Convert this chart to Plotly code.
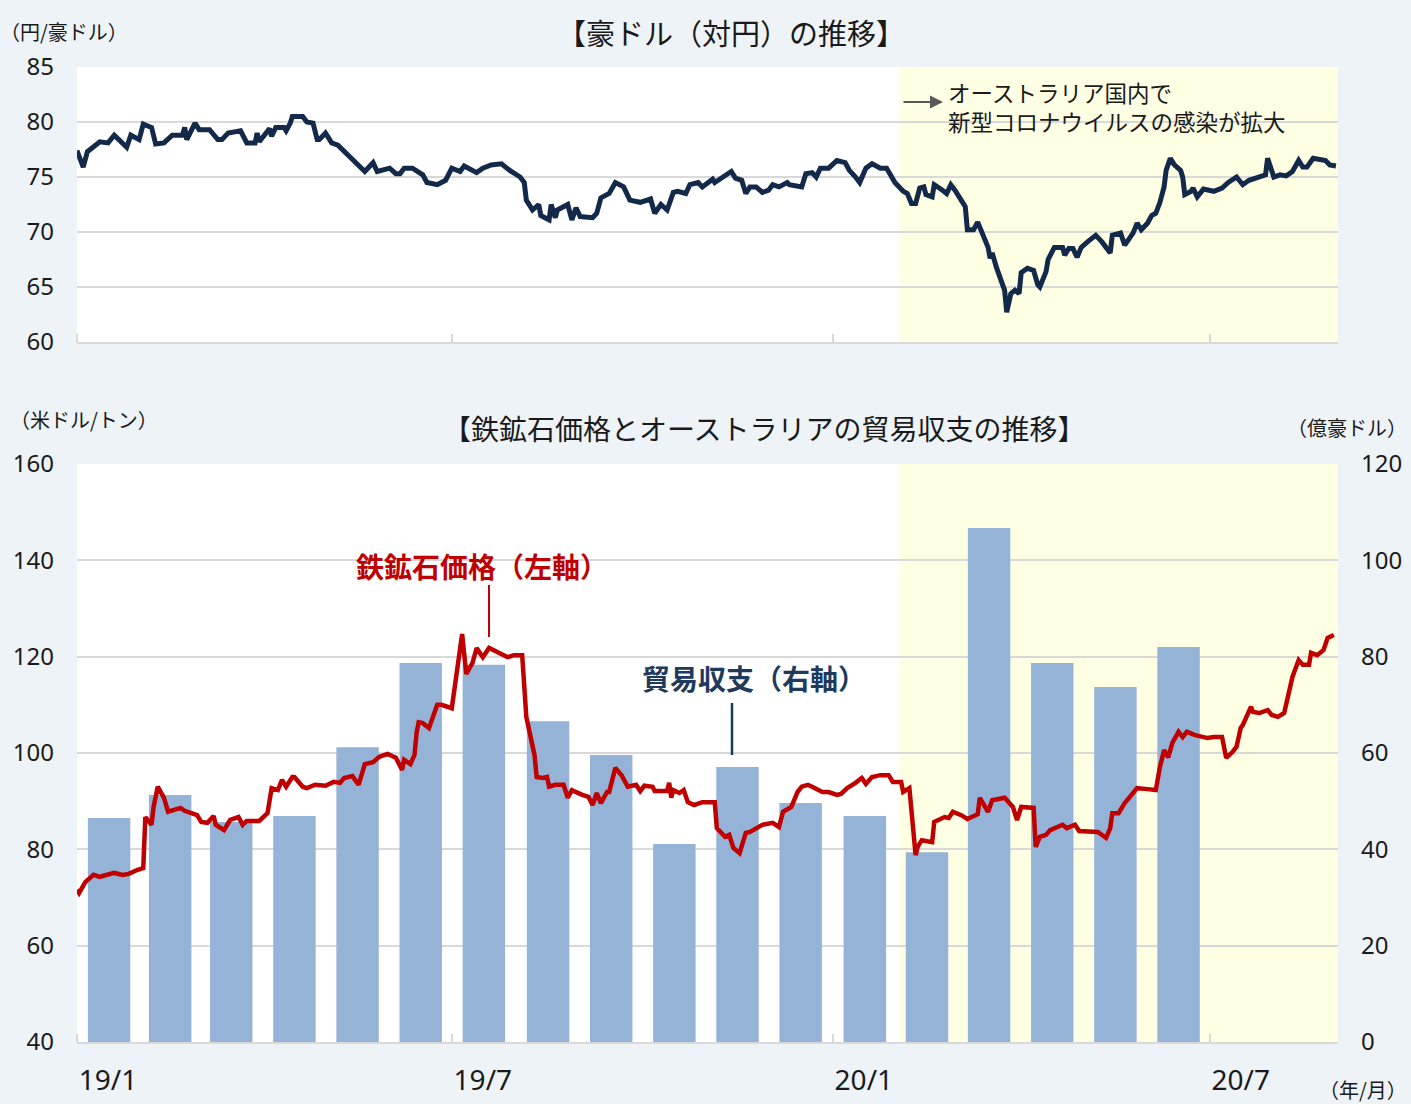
import pandas as pd
import plotly.graph_objects as go

BASE_DATE = "2019-01-01"

# ---- AUD/JPY (days since 2019-01-01, value in JPY per AUD) ----
audjpy_day = [0, 3, 5, 11, 15, 18, 24, 26, 30, 32, 36, 38, 42, 46, 51, 52, 53, 57, 59, 64,
              68, 70, 73, 79, 82, 86, 87, 88, 93, 94, 96, 100, 101, 103, 104, 109, 111, 114, 116, 117,
              120, 123, 126, 131, 135, 137, 139, 143, 145, 151, 154, 156, 158, 162, 167, 169, 174, 178, 181, 185,
              187, 193, 196, 200, 205, 209, 214, 216, 217, 220, 223, 224, 228, 229, 231, 232, 237, 239, 241, 243,
              249, 251, 253, 257, 260, 264, 267, 272, 277, 279, 282, 285, 288, 290, 294, 296, 300, 302, 307, 308,
              314, 316, 318, 321, 323, 325, 328, 331, 334, 336, 339, 343, 344, 350, 352, 355, 357, 359, 363, 367,
              371, 373, 376, 378, 381, 384, 388, 391, 395, 399, 401, 403, 405, 407, 409, 410, 413, 414, 418, 420,
              422, 424, 428, 429, 430, 433, 435, 437, 440, 441, 442, 444, 447, 448, 449, 451, 453, 455, 456, 459,
              462, 464, 465, 468, 469, 472, 476, 477, 479, 481, 483, 485, 488, 492, 495, 498, 499, 500, 504, 506,
              510, 512, 514, 517, 519, 521, 523, 525, 526, 528, 530, 533, 534, 535, 538, 539, 541, 544, 549, 553,
              556, 560, 563, 566, 569, 574, 575, 578, 581, 584, 587, 590, 592, 594, 597, 600, 603, 605, 608]
audjpy_val = [77.4, 75.9, 77.3, 78.2, 78.1, 78.8, 77.7, 78.8, 78.4, 79.8, 79.5, 78.0, 78.1, 78.8, 78.8, 79.5, 78.4, 79.9, 79.3, 79.3,
              78.4, 78.4, 79.0, 79.2, 78.1, 78.1, 79.0, 78.2, 79.4, 78.7, 79.5, 79.5, 79.2, 79.9, 80.5, 80.5, 80.0, 79.9, 78.4, 78.4,
              79.0, 78.1, 77.9, 77.0, 76.3, 75.9, 75.5, 76.3, 75.5, 75.8, 75.3, 75.3, 75.8, 75.8, 75.2, 74.5, 74.3, 74.7, 75.8, 75.5,
              76.0, 75.4, 75.8, 76.1, 76.2, 75.6, 75.0, 74.5, 72.9, 72.0, 72.5, 71.5, 71.1, 72.5, 71.3, 72.0, 72.5, 71.1, 72.2, 71.4,
              71.3, 71.7, 73.1, 73.5, 74.5, 74.1, 72.9, 72.7, 73.0, 71.7, 72.5, 72.0, 73.6, 73.7, 73.5, 74.3, 74.5, 74.1, 74.8, 74.5,
              75.2, 75.5, 74.9, 74.7, 73.5, 74.1, 74.1, 73.6, 73.8, 74.3, 74.1, 74.5, 74.3, 74.1, 75.3, 75.4, 75.0, 75.8, 75.8, 76.5,
              76.3, 75.6, 75.0, 74.5, 75.8, 76.2, 75.8, 75.8, 74.5, 73.7, 73.5, 72.6, 72.6, 74.0, 74.1, 73.4, 73.2, 74.3, 73.8, 73.5,
              74.3, 73.8, 72.6, 72.3, 70.2, 70.2, 70.9, 69.9, 68.6, 67.6, 68.1, 66.8, 65.4, 64.7, 62.7, 64.4, 64.7, 64.4, 66.3, 66.7,
              66.5, 65.2, 65.0, 66.4, 67.5, 68.6, 68.6, 67.9, 68.5, 68.5, 67.7, 68.6, 69.1, 69.7, 69.1, 68.4, 68.1, 69.7, 69.9, 68.8,
              69.9, 70.8, 70.2, 70.8, 71.5, 71.7, 72.7, 74.1, 75.6, 76.7, 76.1, 75.6, 75.0, 73.4, 73.7, 74.0, 73.2, 73.9, 73.7, 74.0,
              74.5, 75.0, 74.3, 74.7, 74.9, 75.2, 76.7, 75.0, 75.2, 75.1, 75.5, 76.5, 75.9, 75.9, 76.7, 76.6, 76.5, 76.1, 76.0]

# ---- Iron ore price (days since 2019-01-01, USD per ton) ----
iron_day = [0, 1, 4, 8, 11, 14, 18, 22, 25, 29, 32, 33, 34, 36, 37, 39, 42, 44, 50, 52,
            58, 60, 63, 66, 67, 71, 74, 78, 80, 82, 88, 92, 94, 97, 99, 101, 104, 105, 109, 111,
            115, 120, 124, 127, 129, 133, 136, 139, 143, 146, 150, 154, 157, 158, 161, 163, 164, 165, 167, 170,
            174, 176, 181, 186, 188, 191, 193, 196, 199, 203, 208, 211, 215, 217, 221, 222, 225, 227, 228, 231,
            235, 237, 239, 244, 247, 249, 251, 253, 256, 257, 260, 263, 266, 270, 272, 274, 278, 279, 285, 286,
            287, 288, 291, 293, 295, 298, 302, 308, 309, 313, 315, 317, 320, 323, 325, 331, 336, 339, 341, 345,
            348, 350, 353, 355, 360, 363, 367, 369, 372, 376, 379, 381, 384, 388, 392, 394, 398, 399, 402, 405,
            406, 408, 413, 414, 419, 421, 423, 427, 430, 435, 436, 440, 442, 448, 452, 454, 456, 462, 463, 465,
            468, 470, 476, 478, 482, 484, 493, 497, 499, 500, 503, 506, 508, 512, 517, 521, 523, 525, 527, 529,
            532, 534, 536, 540, 546, 549, 553, 555, 558, 560, 562, 563, 567, 568, 571, 575, 577, 580, 583, 585,
            587, 590, 592, 595, 596, 599, 602, 604, 607]
iron_val = [71.6, 70.9, 73.2, 74.7, 74.3, 74.7, 75.1, 74.7, 74.9, 75.7, 76.1, 86.7, 86.1, 85.1, 88.8, 93.0, 90.7, 87.8, 88.6, 88.0,
            87.1, 85.7, 85.5, 86.9, 85.1, 84.0, 86.1, 86.7, 85.1, 85.9, 85.9, 87.5, 92.7, 92.3, 94.4, 93.0, 95.0, 95.0, 93.0, 92.7,
            93.4, 93.2, 94.0, 93.8, 94.8, 95.2, 93.4, 97.7, 98.1, 99.2, 99.8, 99.0, 96.5, 98.6, 97.7, 99.6, 104.2, 106.4, 106.2, 105.2,
            110.0, 110.0, 109.3, 124.7, 116.4, 118.7, 121.8, 119.9, 121.8, 121.0, 119.9, 120.3, 120.3, 107.5, 99.5, 95.0, 94.8, 95.0, 93.0, 93.4,
            93.4, 90.7, 92.3, 91.3, 90.9, 89.2, 91.7, 89.6, 91.9, 91.9, 96.9, 95.4, 93.0, 93.4, 92.1, 93.2, 93.0, 92.1, 92.1, 93.8,
            90.7, 92.3, 91.7, 92.3, 89.8, 89.2, 89.8, 89.8, 84.4, 82.6, 83.0, 80.3, 79.2, 83.4, 83.6, 85.1, 85.5, 84.6, 87.8, 88.8,
            91.9, 93.0, 93.4, 93.0, 91.9, 91.9, 91.3, 91.5, 92.7, 93.8, 94.8, 93.6, 95.0, 95.4, 95.4, 94.0, 94.0, 91.9, 92.7, 78.8,
            80.5, 81.9, 81.5, 85.7, 86.7, 86.5, 87.8, 87.1, 86.3, 87.3, 90.7, 87.8, 90.2, 90.7, 88.8, 86.1, 88.8, 88.6, 80.5, 82.6,
            83.0, 84.0, 85.1, 84.4, 85.1, 83.8, 83.6, 82.4, 84.4, 87.5, 87.5, 89.6, 90.7, 92.7, 92.5, 92.3, 97.1, 100.6, 99.1, 102.1,
            104.4, 103.3, 104.4, 103.7, 103.1, 103.3, 103.3, 99.0, 100.2, 101.3, 105.2, 105.8, 109.6, 108.5, 108.3, 108.9, 107.9, 107.5, 108.3, 111.6,
            115.8, 119.3, 118.3, 118.3, 120.8, 120.3, 121.4, 123.9, 124.5]

# ---- Australian trade balance (monthly, 100 million AUD) ----
trade_month = ["2019-01", "2019-02", "2019-03", "2019-04", "2019-05", "2019-06", "2019-07", "2019-08", "2019-09",
               "2019-10", "2019-11", "2019-12", "2020-01", "2020-02", "2020-03", "2020-04", "2020-05", "2020-06"]
trade_val = [46.5, 51.3, 45.7, 46.9, 61.2, 78.7, 78.3, 66.6, 59.6, 41.1, 57.1, 49.6, 46.9, 39.4, 106.7, 78.7, 73.7, 82.0]

# ---- axis labels ----
x_tick_dates = ["2019-01-16", "2019-07-16", "2020-01-16", "2020-07-16"]
x_tick_text = ["19/1", "19/7", "20/1", "20/7"]
x_tick_marks = ["2019-01-01", "2019-07-01", "2020-01-01", "2020-07-01"]
x_range = ["2019-01-01", "2020-09-01"]
covid_start = "2020-02-02"

base = pd.Timestamp(BASE_DATE)
audjpy_dates = base + pd.to_timedelta(audjpy_day, unit="D")
iron_dates = base + pd.to_timedelta(iron_day, unit="D")
trade_dates = pd.to_datetime([m + "-01" for m in trade_month])

GRID = "#D9D9D9"
TXT = "#1A1A1A"
CJK = "Noto Sans CJK JP"
NUM = "Noto Sans"

fig = go.Figure()

fig.add_trace(go.Scatter(x=audjpy_dates, y=audjpy_val, mode="lines",
                         line=dict(color="#13294A", width=5),
                         xaxis="x", yaxis="y", showlegend=False))
fig.add_trace(go.Bar(x=trade_dates, y=trade_val, xperiod="M1", xperiodalignment="middle",
                     width=20.5 * 86400000, marker=dict(color="#95B3D7", line=dict(width=0)),
                     xaxis="x2", yaxis="y2", showlegend=False))
fig.add_trace(go.Scatter(x=iron_dates, y=iron_val, mode="lines",
                         line=dict(color="#C00000", width=4.5),
                         xaxis="x2", yaxis="y3", showlegend=False))

top_dom = [(1042 - 342) / 975, 1.0]
bot_dom = [0.0, (1042 - 464) / 975]

xcommon = dict(type="date", range=x_range, showgrid=False, zeroline=False, automargin=False,
               showline=True, linecolor=GRID, linewidth=2,
               tickmode="array", tickvals=x_tick_dates, ticktext=x_tick_text, ticks="",
               minor=dict(tickmode="array", tickvals=x_tick_marks, ticks="inside",
                          ticklen=8, tickcolor=GRID, tickwidth=2, showgrid=False),
               tickfont=dict(family=NUM, size=28, color=TXT))
ycommon = dict(zeroline=False, showline=False, automargin=False, ticks="", ticklabelstandoff=22,
               tickfont=dict(family=NUM, size=24, color=TXT))

fig.update_layout(
    width=1411, height=1104, autosize=False,
    margin=dict(l=77, r=73, t=67, b=62),
    paper_bgcolor="#EEF3F8", plot_bgcolor="#FFFFFF",
    font=dict(family=CJK, color=TXT),
    xaxis=dict(domain=[0, 1], anchor="y", showticklabels=False, **xcommon),
    yaxis=dict(domain=top_dom, anchor="x", range=[60, 85], dtick=5, tick0=60,
               showgrid=True, gridcolor=GRID, gridwidth=1.5, **ycommon),
    xaxis2=dict(domain=[0, 1], anchor="y2", showticklabels=True, ticklabelstandoff=12, **xcommon),
    yaxis2=dict(domain=bot_dom, anchor="x2", side="right", range=[0, 120], dtick=20, tick0=0,
                showgrid=True, gridcolor=GRID, gridwidth=1.5, **ycommon),
    yaxis3=dict(overlaying="y2", anchor="x2", side="left", range=[40, 160], dtick=20, tick0=40,
                showgrid=False, **ycommon),
    bargap=0.3,
)

# COVID shading
fig.add_shape(type="rect", xref="x", yref="y domain", x0=covid_start, x1=x_range[1], y0=0, y1=1,
              fillcolor="#FFFFE3", line=dict(width=0), layer="below")
fig.add_shape(type="rect", xref="x2", yref="y2 domain", x0=covid_start, x1=x_range[1], y0=0, y1=1,
              fillcolor="#FFFFE3", line=dict(width=0), layer="below")


def px_x(px):
    return (px - 77) / 1261


def px_y(py):
    return (1042 - py) / 975


ann = []
ann.append(dict(text="【豪ドル（対円）の推移】", x=px_x(731), y=px_y(32), xref="paper", yref="paper",
                showarrow=False, xanchor="center", yanchor="middle", font=dict(size=29, color=TXT)))
ann.append(dict(text="【鉄鉱石価格とオーストラリアの貿易収支の推移】", x=px_x(765), y=px_y(428),
                xref="paper", yref="paper", showarrow=False, xanchor="center", yanchor="middle",
                font=dict(size=28, color=TXT)))
ann.append(dict(text="（円/豪ドル）", x=px_x(-2), y=px_y(32), xref="paper", yref="paper",
                showarrow=False, xanchor="left", yanchor="middle", font=dict(size=20, color=TXT)))
ann.append(dict(text="（米ドル/トン）", x=px_x(8), y=px_y(420), xref="paper", yref="paper",
                showarrow=False, xanchor="left", yanchor="middle", font=dict(size=20, color=TXT)))
ann.append(dict(text="（億豪ドル）", x=px_x(1409), y=px_y(428), xref="paper", yref="paper",
                showarrow=False, xanchor="right", yanchor="middle", font=dict(size=20, color=TXT)))
ann.append(dict(text="（年/月）", x=px_x(1409), y=px_y(1089), xref="paper", yref="paper",
                showarrow=False, xanchor="right", yanchor="middle", font=dict(size=20, color=TXT)))
# COVID note
ann.append(dict(text="", x=px_x(943), y=px_y(102), xref="paper", yref="paper",
                showarrow=True, ax=-41, ay=0, axref="pixel", ayref="pixel",
                arrowhead=2, arrowsize=1.3, arrowwidth=2, arrowcolor="#595959"))
ann.append(dict(text="オーストラリア国内で<br>新型コロナウイルスの感染が拡大", x=px_x(946), y=px_y(106),
                xref="paper", yref="paper", showarrow=False, xanchor="left", yanchor="middle",
                align="left", font=dict(size=22.5, color=TXT)))
# series labels
ann.append(dict(text="<b>鉄鉱石価格（左軸）</b>", x=px_x(482), y=px_y(566), xref="paper", yref="paper",
                showarrow=False, xanchor="center", yanchor="middle", font=dict(size=28, color="#C00000")))
ann.append(dict(text="<b>貿易収支（右軸）</b>", x=px_x(754), y=px_y(678), xref="paper", yref="paper",
                showarrow=False, xanchor="center", yanchor="middle", font=dict(size=28, color="#203A5E")))
fig.update_layout(annotations=ann)

fig.add_shape(type="line", xref="paper", yref="paper", x0=px_x(489), x1=px_x(489), y0=px_y(585), y1=px_y(637),
              line=dict(color="#C00000", width=2))
fig.add_shape(type="line", xref="paper", yref="paper", x0=px_x(732), x1=px_x(732), y0=px_y(703), y1=px_y(755),
              line=dict(color="#203A5E", width=2.5))

fig.write_html("out.html")
